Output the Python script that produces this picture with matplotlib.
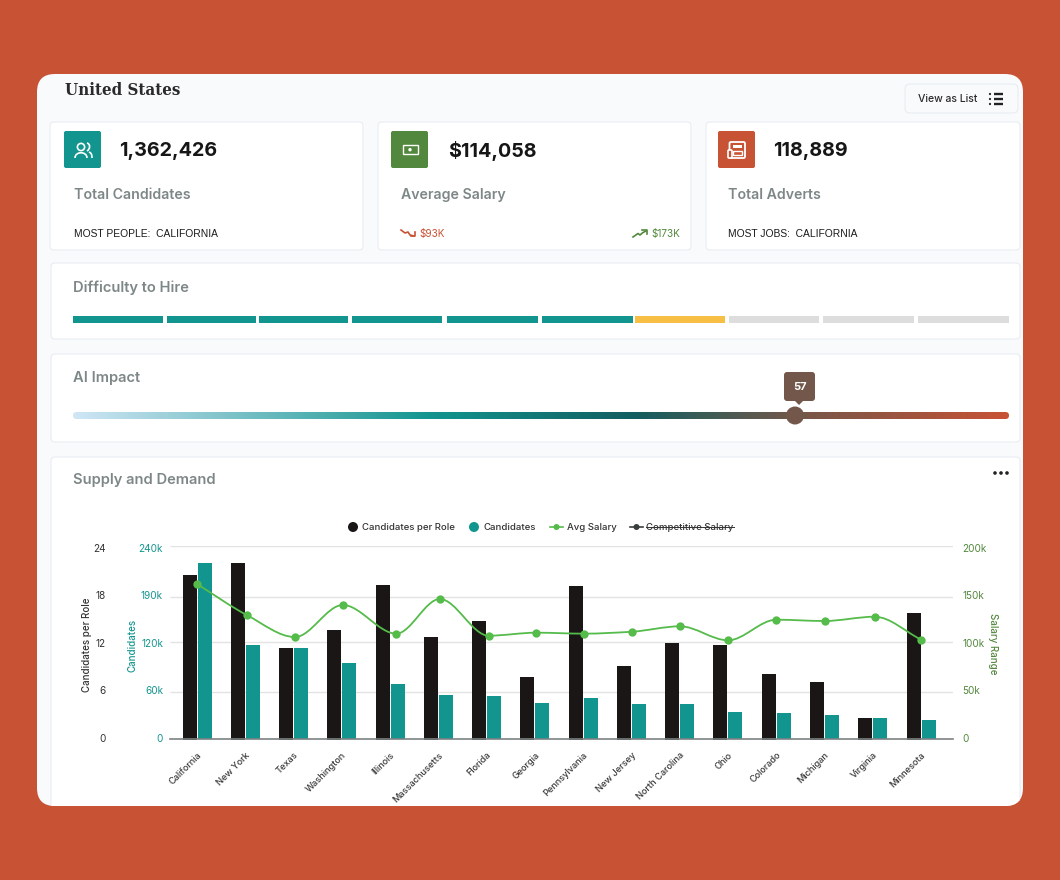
import numpy as np
import matplotlib
matplotlib.use("Agg")
import matplotlib.pyplot as plt
from matplotlib.colors import LinearSegmentedColormap
from matplotlib.patches import Circle, FancyBboxPatch, PathPatch, Polygon, Rectangle
from matplotlib.path import Path

states = ["California", "New York", "Texas", "Washington", "Illinois", "Massachusetts",
          "Florida", "Georgia", "Pennsylvania", "New Jersey", "North Carolina", "Ohio",
          "Colorado", "Michigan", "Virginia", "Minnesota"]
per_role = [20.4, 21.9, 11.3, 13.6, 19.2, 12.7, 14.7, 7.75, 19.0, 9.1, 12.0, 11.7, 8.1, 7.1, 2.7, 15.7]
candidates = [218.5, 116.8, 113.5, 94.5, 68.8, 54.8, 54, 45.3, 51.5, 44, 44, 34.5, 32.5, 30.4, 27, 23.8]
avg_salary = [160.7, 128.4, 105.9, 139, 109.4, 145.2, 107.3, 110.4, 109.4, 111.4, 117, 102.5, 123.8, 122.5, 126.9, 103.2]
# the dots sit a little off the bar groups in the original
salary_pos = [0, 1.04, 2.03, 3.02, 4.13, 5.03, 6.04, 7.03, 8.02, 9.01, 10.01, 11.0, 12.0, 13.0, 14.04, 15.0]

label_pos = [0.22, 6.1, 12, 17.9, 23.78]
grid_levels = [5.94, 12.1, 17.7, 24]
role_labels = ["0", "6", "12", "18", "24"]
cand_labels = ["0", "60k", "120k", "190k", "240k"]
salary_labels = ["0", "50k", "100k", "150k", "200k"]

difficulty_colors = ["#13958F"] * 6 + ["#F8BF45"] + ["#DDDDDD"] * 3
difficulty_edges = [(73, 163), (167, 256), (259, 348), (352, 442), (447, 538),
                    (542, 633), (635, 725), (729, 819), (823, 914), (918, 1009)]

ORANGE = "#C85234"
TEAL = "#13958F"
GREEN = "#52883D"
LINE_GREEN = "#55BB4A"
BLACK = "#1B1616"
GREY = "#7E8787"
BORDER = "#E8ECF2"

plt.rcParams["font.family"] = ["Inter", "DejaVu Sans"]

W, H = 1060, 880
fig = plt.figure(figsize=(W / 100, H / 100), dpi=100, facecolor=ORANGE)

# page layer in pixel coordinates
page = fig.add_axes([0, 0, 1, 1])
page.set_xlim(0, W)
page.set_ylim(H, 0)
page.axis("off")


def box(x0, y0, x1, y1, r=4, fc="white", ec=BORDER, lw=0.8, z=1):
    p = FancyBboxPatch((x0 + r, y0 + r), x1 - x0 - 2 * r, y1 - y0 - 2 * r,
                       boxstyle=f"round,pad={r},rounding_size={r}",
                       fc=fc, ec=ec, lw=lw, zorder=z)
    page.add_patch(p)
    return p


def label(x, y, s, size, color="#222222", weight="normal", ha="left", **kw):
    page.text(x, y + 1, s, fontsize=size, color=color, fontweight=weight,
              ha=ha, va="center", zorder=6, **kw)


# main card, its bottom corners are cut by the orange band
card = box(37, 74, 1023, 806, r=18, fc="#F9FAFC", ec="none")

label(65, 89.5, "United States", 12.1, "#2A2A2A", "bold", family="DejaVu Serif", stretch="condensed")

box(905, 84, 1018, 113, r=5, fc="#F9FAFC")
label(918, 98, "View as List", 7.5, "#2A2A2A", "medium")
for yy in (94, 99, 104):
    page.add_patch(Circle((990, yy), 1.1, fc="#222222", ec="none", zorder=6))
    page.plot([994, 1003], [yy, yy], color="#222222", lw=1.7, zorder=6, solid_capstyle="butt")

# stat cards
box(50, 122, 363, 250)
box(378, 122, 691, 250)
box(706, 122, 1020, 250)

box(64, 131, 101, 168, r=2, fc=TEAL, ec="none", z=3)
box(391, 131, 428, 168, r=2, fc=GREEN, ec="none", z=3)
box(718, 131, 755, 168, r=2, fc=ORANGE, ec="none", z=3)

# people icon
page.add_patch(Circle((81, 147), 3.6, fc="none", ec="white", lw=1.2, zorder=6))
page.add_patch(PathPatch(Path([(75, 158), (75, 151), (87, 151), (87, 158)],
                              [Path.MOVETO, Path.CURVE4, Path.CURVE4, Path.CURVE4]),
                         fc="none", ec="white", lw=1.2, zorder=6))
page.add_patch(PathPatch(Path([(87, 143), (90.5, 144), (90.5, 149), (87, 151)],
                              [Path.MOVETO, Path.CURVE4, Path.CURVE4, Path.CURVE4]),
                         fc="none", ec="white", lw=1.2, zorder=6))
page.add_patch(PathPatch(Path([(89, 152), (91.5, 153), (92, 155), (92, 158)],
                              [Path.MOVETO, Path.CURVE4, Path.CURVE4, Path.CURVE4]),
                         fc="none", ec="white", lw=1.2, zorder=6))

# money icon
page.add_patch(Rectangle((402.5, 145.5), 15, 8.5, fc="none", ec="white", lw=1.0, zorder=6))
page.add_patch(Circle((410, 149.7), 1.7, fc="white", ec="none", zorder=6))

# newspaper icon
box(729.5, 142, 745, 158, r=1.5, fc="none", ec="white", z=6).set_linewidth(1.3)
page.add_patch(Rectangle((733, 145), 8.5, 3.5, fc="white", ec="none", zorder=6))
page.add_patch(Rectangle((733, 151), 8.5, 4, fc="none", ec="white", lw=1, zorder=6))
box(728, 150, 732, 158, r=1, fc=ORANGE, ec="white", z=6).set_linewidth(1.2)

label(119, 150, "1,362,426", 14.2, "#161616", "bold")
label(448, 150, "$114,058", 14.2, "#161616", "bold")
label(773, 150, "118,889", 14.2, "#161616", "bold")

label(74, 194, "Total Candidates", 10.2, GREY, "semibold")
label(401, 194, "Average Salary", 10.2, GREY, "semibold")
label(728, 194, "Total Adverts", 10.2, GREY, "semibold")

label(74, 233, "MOST PEOPLE:  CALIFORNIA", 7.4, "#1A1A1A", family="Liberation Sans")
label(728, 233, "MOST JOBS:  CALIFORNIA", 7.4, "#1A1A1A", family="Liberation Sans")

page.plot([401, 405, 408, 410, 414], [230, 233, 232, 235, 236], color=ORANGE, lw=1.2, zorder=6)
page.plot([411, 415, 415], [236.5, 236.5, 232.5], color=ORANGE, lw=1.2, zorder=6)
label(419, 233, "$93K", 7.2, ORANGE)
page.plot([633, 638, 640, 643, 646], [237, 233.5, 235, 232.5, 231], color=GREEN, lw=1.2, zorder=6)
page.plot([642, 646.5, 646.5], [230.5, 230.5, 234.5], color=GREEN, lw=1.2, zorder=6)
label(651, 233, "$173K", 7.2, GREEN)

# difficulty to hire
box(51, 263, 1020, 339)
label(73, 287, "Difficulty to Hire", 10.6, GREY, "semibold")
for (x0, x1), c in zip(difficulty_edges, difficulty_colors):
    page.add_patch(Rectangle((x0, 316), x1 - x0, 7, fc=c, ec="none", zorder=5))

# ai impact
box(51, 354, 1020, 442)
label(73, 377, "AI Impact", 10.6, GREY, "semibold")
cmap = LinearSegmentedColormap.from_list(
    "impact",
    [(0, "#CFE6F5"), (0.38, TEAL), (0.6, "#125E60"), (0.77, "#72574A"), (1, ORANGE)])
img = page.imshow(np.linspace(0, 1, 512)[None, :], cmap=cmap, aspect="auto",
                  extent=(73, 1009, 419, 412), zorder=4)
clip = FancyBboxPatch((76.5, 415.5), 929, 0, boxstyle="round,pad=3.5,rounding_size=3.5",
                      fc="none", ec="none", transform=page.transData)
page.add_patch(clip)
img.set_clip_path(clip)
page.set_xlim(0, W)
page.set_ylim(H, 0)
page.add_patch(Circle((795, 415.5), 9, fc="#72574A", ec="none", zorder=6))
box(784, 372, 815, 401, r=3, fc="#72574A", ec="none", z=6)
page.add_patch(Polygon([(794, 400), (804, 400), (799, 405)], fc="#72574A", ec="none", zorder=6))
label(799.5, 386, "57", 8, "white", "bold", ha="center")

# supply and demand panel runs off the bottom of the card
panel = box(51, 457, 1020, 840, fc="white")
panel.set_clip_path(card)
label(73, 479, "Supply and Demand", 10.6, GREY, "semibold")
for xx in (995, 1001, 1007):
    page.add_patch(Circle((xx, 473), 1.8, fc="#222222", ec="none", zorder=6))

# legend
page.add_patch(Circle((353, 527), 5, fc=BLACK, ec="none", zorder=6))
label(362, 526, "Candidates per Role", 6.9, "#333333", "medium")
page.add_patch(Circle((474, 527), 5, fc=TEAL, ec="none", zorder=6))
label(484, 526, "Candidates", 6.9, "#333333", "medium")
page.plot([550, 563], [527, 527], color=LINE_GREEN, lw=1.2, zorder=6)
page.add_patch(Circle((556.5, 527), 3, fc=LINE_GREEN, ec="none", zorder=6))
label(567, 526, "Avg Salary", 6.9, "#333333", "medium")
page.plot([630, 643], [527, 527], color="#3A3F3C", lw=1.2, zorder=6)
page.add_patch(Circle((636.5, 527), 3, fc="#3A3F3C", ec="none", zorder=6))
label(646, 526, "Competitive Salary", 6.9, "#333333", "medium")
page.plot([646, 734], [527, 527], color="#333333", lw=0.7, zorder=7)

# chart axes
x0_px, x1_px, y0_px, y1_px = 170, 953, 739.5, 546
step = 48.27
ax = fig.add_axes([x0_px / W, 1 - y0_px / H, (x1_px - x0_px) / W, (y0_px - y1_px) / H])
ax.patch.set_alpha(0)
ax2 = ax.twinx()
ax3 = ax.twinx()

x = np.arange(len(states))
w = 14 / step
off = 7.5 / step

ax.bar(x - off, per_role, w, color=BLACK, zorder=3)
ax.set_xlim((x0_px - 197) / step, (x1_px - 197) / step)
ax.set_ylim(0, 24)
ax.set_yticks(label_pos, role_labels)
ax.set_xticks(x, states)
ax.tick_params(axis="x", length=0, pad=8, labelsize=6.6, labelcolor="#3A3A3A")
for t in ax.get_xticklabels():
    t.set_rotation(45)
    t.set_ha("right")
    t.set_va("top")
    t.set_rotation_mode("anchor")
    t.set_fontweight("medium")
ax.tick_params(axis="y", length=0, pad=46, labelsize=7.2, labelcolor="#333333")
ax.hlines(grid_levels, *ax.get_xlim(), color="#E3E3E3", lw=1, zorder=1)

ax2.bar(x + off, candidates, w, color=TEAL, zorder=3)
ax2.set_ylim(0, 240)
ax2.yaxis.tick_left()
ax2.set_yticks(np.array(label_pos) * 10, cand_labels)
ax2.tick_params(axis="y", length=0, pad=5, labelsize=7.2, labelcolor=TEAL, labelright=False, labelleft=True)

# monotone cubic through the salary points, as the chart's smooth line does
dx = np.diff(salary_pos)
slopes = np.diff(avg_salary) / dx
tang = np.zeros(len(x))
tang[0], tang[-1] = slopes[0], slopes[-1]
for i in range(1, len(x) - 1):
    if slopes[i - 1] * slopes[i] > 0:
        tang[i] = 2 * slopes[i - 1] * slopes[i] / (slopes[i - 1] + slopes[i])
verts = [(salary_pos[0], avg_salary[0])]
codes = [Path.MOVETO]
for i in range(len(x) - 1):
    verts += [(salary_pos[i] + dx[i] / 3, avg_salary[i] + tang[i] * dx[i] / 3),
              (salary_pos[i + 1] - dx[i] / 3, avg_salary[i + 1] - tang[i + 1] * dx[i] / 3),
              (salary_pos[i + 1], avg_salary[i + 1])]
    codes += [Path.CURVE4] * 3
ax3.add_patch(PathPatch(Path(verts, codes), fc="none", ec=LINE_GREEN, lw=1.3, zorder=4))
ax3.plot(salary_pos, avg_salary, "o", color=LINE_GREEN, ms=6, mew=0, zorder=5)
ax3.set_ylim(0, 200)
ax3.set_yticks(np.array(label_pos) * 200 / 24, salary_labels)
ax3.tick_params(axis="y", length=0, pad=6.5, labelsize=7.2, labelcolor=GREEN)

for a in (ax, ax2, ax3):
    for spine in a.spines.values():
        spine.set_visible(False)
ax3.spines["bottom"].set_visible(True)
ax3.spines["bottom"].set_color("#7D8282")
ax3.spines["bottom"].set_linewidth(1.2)

label(87, 644, "Candidates per Role", 7, "#333333", "medium", ha="center", rotation=90)
label(132, 644, "Candidates", 7, TEAL, "medium", ha="center", rotation=90)
label(993, 643, "Salary Range", 7, GREEN, "medium", ha="center", rotation=270)

fig.savefig("out.png", dpi=100, facecolor=ORANGE)
